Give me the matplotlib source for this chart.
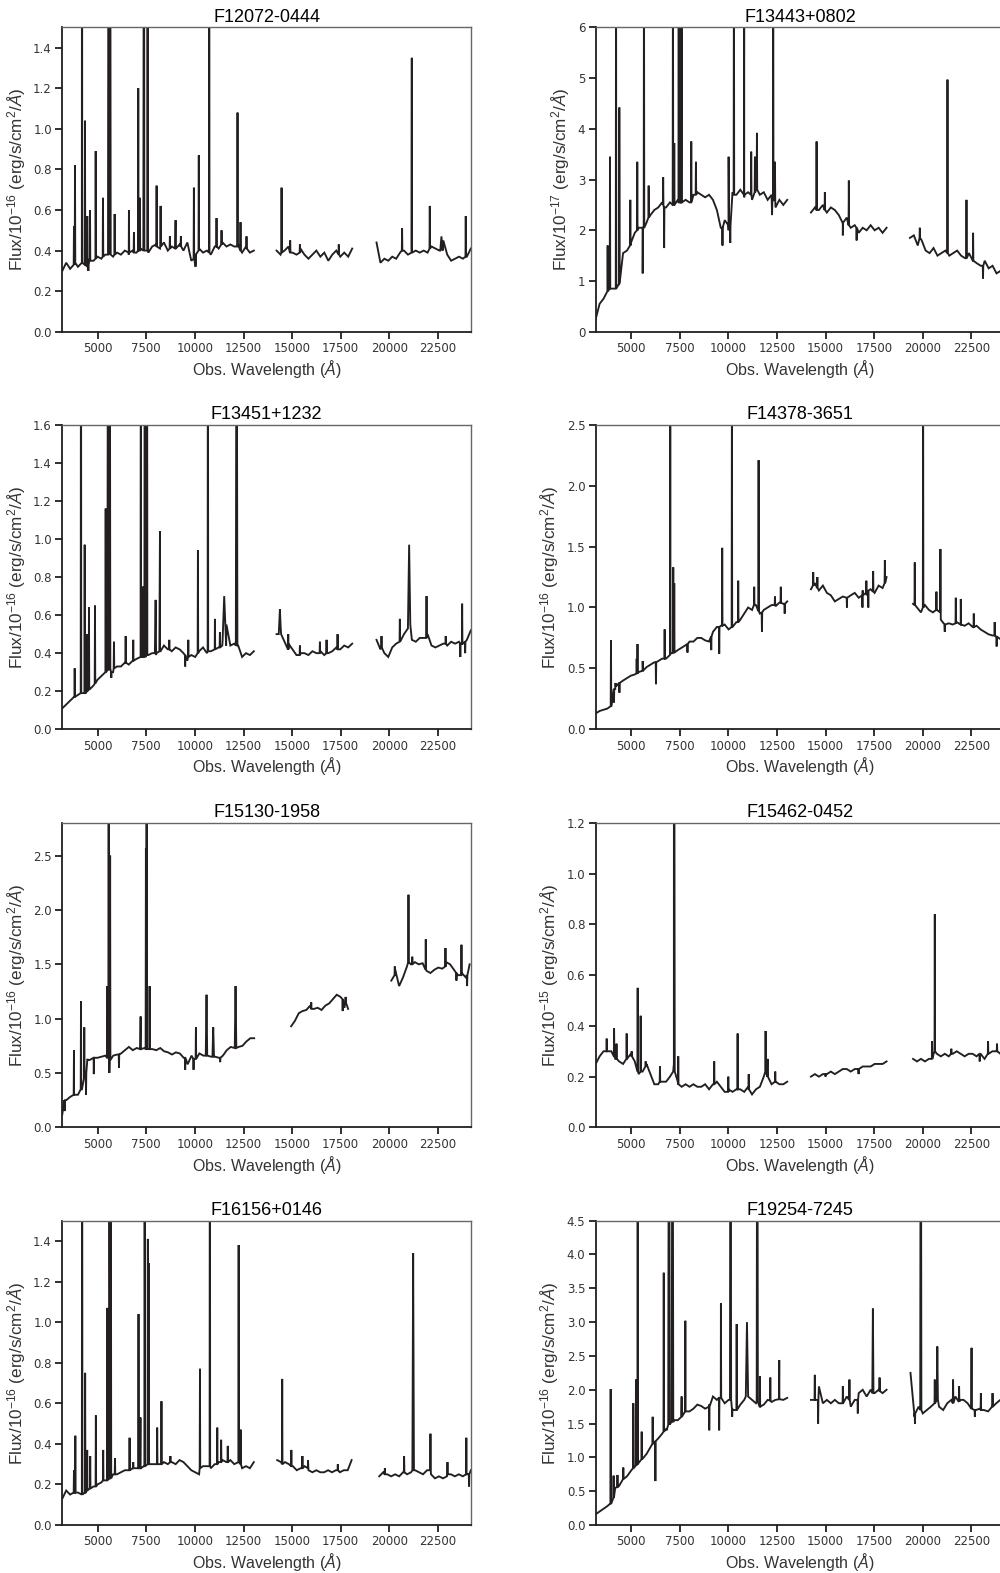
import numpy as np
import matplotlib
matplotlib.use('Agg')
import matplotlib.pyplot as plt

plt.rcParams['mathtext.fontset'] = 'custom'
plt.rcParams['mathtext.rm'] = 'Liberation Sans'
plt.rcParams['mathtext.it'] = 'Liberation Sans:italic'

# ---- data ----
# continuum: flux values on an even grid between the segment ends
# lines: (wavelength, base, peak[, half width])

f12072_ranges = [(3180, 13030), (14200, 18090), (19340, 24190)]
f12072_seg1 = [0.30, 0.34, 0.31, 0.35, 0.32, 0.34, 0.33, 0.36, 0.35, 0.37,
               0.36, 0.38, 0.39, 0.37, 0.39, 0.38, 0.40, 0.38, 0.40, 0.39,
               0.41, 0.40, 0.39, 0.42, 0.43, 0.41, 0.44, 0.40, 0.42, 0.41,
               0.43, 0.40, 0.44, 0.35, 0.33, 0.41, 0.39, 0.40, 0.38, 0.42,
               0.41, 0.44, 0.42, 0.43, 0.42, 0.43, 0.39, 0.42, 0.39, 0.40]
f12072_seg2 = [0.40, 0.38, 0.40, 0.42, 0.39, 0.38, 0.41, 0.38, 0.36, 0.38,
               0.40, 0.37, 0.39, 0.35, 0.38, 0.40, 0.37, 0.39, 0.37, 0.41]
f12072_seg3 = [0.44, 0.34, 0.36, 0.35, 0.37, 0.36, 0.39, 0.40, 0.38, 0.41,
               0.40, 0.39, 0.40, 0.39, 0.42, 0.41, 0.40, 0.45, 0.38, 0.35,
               0.36, 0.37, 0.36, 0.37, 0.41]
f12072_lines = [(3780, 0.33, 0.52), (3833, 0.34, 0.82), (4193, 0.34, 3.0), (4347, 0.33, 1.04),
                (4465, 0.32, 0.57), (4520, 0.33, 0.30), (4606, 0.35, 0.60), (4897, 0.36, 0.89),
                (5272, 0.37, 0.66), (5560, 0.38, 3.0, 30), (5640, 0.38, 3.0, 30), (5872, 0.38, 0.58),
                (6607, 0.39, 0.60), (6864, 0.39, 0.49), (7087, 0.40, 1.20), (7172, 0.40, 0.66),
                (7378, 0.40, 3.0, 30), (7567, 0.40, 3.0), (8030, 0.42, 0.72), (8235, 0.42, 0.62),
                (8713, 0.41, 0.47), (9006, 0.41, 0.55), (9278, 0.42, 0.47), (9948, 0.36, 0.71),
                (10030, 0.38, 0.32), (10200, 0.40, 0.87), (10736, 0.39, 3.0), (11112, 0.42, 0.56),
                (11370, 0.43, 0.50), (12192, 0.42, 1.08), (12346, 0.40, 0.54), (12654, 0.41, 0.47),
                (14457, 0.39, 0.71), (14900, 0.39, 0.45), (15400, 0.39, 0.43), (17400, 0.38, 0.43),
                (20656, 0.40, 0.51), (21155, 0.39, 1.35), (22080, 0.41, 0.62), (22680, 0.40, 0.47, 60),
                (23930, 0.37, 0.57)]

f13443_ranges = [(3180, 13030), (14250, 18140), (19340, 24200)]
f13443_seg1 = [0.25, 0.55, 0.65, 0.80, 0.85, 0.85, 0.92, 1.55, 1.60, 1.75,
               1.95, 2.05, 2.00, 2.15, 2.30, 2.40, 2.45, 2.55, 2.45, 2.55,
               2.50, 2.60, 2.55, 2.60, 2.55, 2.70, 2.75, 2.70, 2.65, 2.70,
               2.60, 2.40, 2.05, 2.20, 2.00, 2.75, 2.70, 2.80, 2.65, 2.75,
               2.60, 2.85, 2.70, 2.75, 2.60, 2.70, 2.45, 2.60, 2.50, 2.60]
f13443_seg2 = [2.35, 2.45, 2.40, 2.50, 2.35, 2.45, 2.40, 2.30, 2.15, 2.25,
               2.05, 2.10, 1.95, 2.05, 2.00, 2.10, 2.00, 2.05, 1.95, 2.05]
f13443_seg3 = [1.85, 1.90, 1.70, 1.80, 1.60, 1.55, 1.65, 1.50, 1.55, 1.60,
               1.50, 1.55, 1.60, 1.50, 1.45, 1.55, 1.40, 1.35, 1.30, 1.40,
               1.25, 1.30, 1.15, 1.20, 1.00]
f13443_lines = [(3795, 0.80, 1.70), (3915, 0.85, 3.45), (4226, 0.85, 8.0), (4395, 0.95, 4.42),
                (4960, 1.70, 2.60), (5318, 2.00, 3.35), (5596, 2.05, 1.15), (5663, 2.05, 8.0),
                (5904, 2.25, 2.88), (6650, 2.50, 3.05), (6700, 2.45, 1.65), (7153, 2.50, 8.0),
                (7220, 2.50, 3.72), (7450, 2.55, 8.0), (7530, 2.55, 8.0), (7600, 2.55, 8.0),
                (8095, 2.55, 3.75), (8335, 2.70, 3.35), (9700, 2.05, 1.70), (10016, 2.10, 3.45),
                (10100, 2.10, 1.75), (10289, 2.70, 8.0), (10818, 2.70, 8.0), (11178, 2.70, 3.55),
                (11370, 2.75, 3.45), (11472, 2.80, 3.92), (12250, 2.55, 2.30), (12309, 2.60, 8.0),
                (12400, 2.60, 3.35),
                (14540, 2.40, 3.75), (14966, 2.40, 2.75), (15890, 2.15, 1.90), (16199, 2.10, 2.98),
                (16600, 2.05, 1.80),
                (19850, 1.85, 2.05), (21273, 1.55, 4.97), (22250, 1.45, 2.60), (22590, 1.40, 1.95),
                (23100, 1.30, 1.05), (24100, 1.05, 1.55), (24180, 1.00, 0.70)]

f13451_ranges = [(3180, 13030), (14200, 18090), (19340, 24190)]
f13451_seg1 = [0.11, 0.13, 0.15, 0.17, 0.18, 0.19, 0.19, 0.21, 0.23, 0.26,
               0.28, 0.30, 0.32, 0.30, 0.33, 0.33, 0.35, 0.34, 0.36, 0.37,
               0.38, 0.38, 0.39, 0.40, 0.39, 0.41, 0.44, 0.42, 0.41, 0.43,
               0.42, 0.40, 0.36, 0.39, 0.38, 0.41, 0.43, 0.40, 0.41, 0.42,
               0.43, 0.46, 0.55, 0.44, 0.45, 0.44, 0.38, 0.40, 0.39, 0.41]
f13451_seg2 = [0.50, 0.55, 0.46, 0.45, 0.42, 0.39, 0.40, 0.40, 0.39, 0.41,
               0.40, 0.41, 0.39, 0.40, 0.41, 0.43, 0.42, 0.44, 0.43, 0.45]
f13451_seg3 = [0.47, 0.42, 0.40, 0.38, 0.43, 0.45, 0.47, 0.50, 0.53, 0.47,
               0.46, 0.48, 0.48, 0.50, 0.44, 0.43, 0.44, 0.45, 0.44, 0.46,
               0.45, 0.46, 0.45, 0.47, 0.52]
f13451_lines = [(3817, 0.17, 0.32), (4141, 0.19, 3.0), (4331, 0.19, 0.97), (4465, 0.20, 0.50),
                (4552, 0.21, 0.64), (4861, 0.24, 0.65), (5411, 0.30, 1.16), (5530, 0.31, 3.0, 30),
                (5620, 0.32, 3.0, 30), (5700, 0.30, 0.27), (5837, 0.32, 0.46), (6439, 0.35, 0.49),
                (6829, 0.36, 0.47), (7220, 0.38, 3.0), (7340, 0.38, 0.75), (7420, 0.38, 3.0, 30),
                (7540, 0.39, 3.0), (7980, 0.40, 0.68, 40), (8202, 0.41, 1.04, 30), (8683, 0.42, 0.47),
                (9500, 0.39, 0.33), (9660, 0.38, 0.47), (10155, 0.40, 0.94), (10669, 0.41, 3.0),
                (11029, 0.42, 0.58), (11286, 0.43, 0.51), (11507, 0.44, 0.70, 100), (12145, 0.44, 3.0, 40),
                (14372, 0.50, 0.63, 60), (14800, 0.42, 0.50), (15400, 0.39, 0.44), (16429, 0.40, 0.46),
                (16771, 0.40, 0.47), (17337, 0.42, 0.50),
                (19597, 0.43, 0.49), (20540, 0.46, 0.58), (21018, 0.55, 0.97, 60), (21913, 0.48, 0.70),
                (22900, 0.45, 0.49), (23650, 0.45, 0.38), (23745, 0.45, 0.66), (23900, 0.46, 0.40)]

f14378_ranges = [(3180, 13030), (14250, 18140), (19500, 24200)]
f14378_seg1 = [0.13, 0.15, 0.16, 0.17, 0.19, 0.33, 0.38, 0.40, 0.42, 0.44,
               0.45, 0.47, 0.48, 0.51, 0.53, 0.55, 0.56, 0.58, 0.58, 0.61,
               0.63, 0.65, 0.67, 0.69, 0.72, 0.72, 0.75, 0.75, 0.73, 0.72,
               0.80, 0.84, 0.85, 0.86, 0.82, 0.84, 0.88, 0.90, 0.95, 1.00,
               0.98, 1.02, 0.95, 0.98, 1.00, 1.02, 1.01, 1.04, 1.03, 1.05]
f14378_seg2 = [1.15, 1.20, 1.14, 1.18, 1.12, 1.10, 1.05, 1.07, 1.09, 1.06,
               1.10, 1.12, 1.08, 1.14, 1.10, 1.15, 1.12, 1.18, 1.16, 1.25]
f14378_seg3 = [1.03, 1.00, 0.96, 1.02, 0.98, 0.96, 0.98, 0.90, 0.85, 0.87,
               0.86, 0.88, 0.86, 0.85, 0.87, 0.84, 0.85, 0.82, 0.80, 0.78,
               0.77, 0.76, 0.74, 0.72]
f14378_lines = [(3966, 0.19, 0.73), (4120, 0.33, 0.22), (4200, 0.35, 0.38), (4400, 0.38, 0.30),
                (5288, 0.46, 0.58), (5330, 0.46, 0.70), (5596, 0.48, 0.56), (6280, 0.55, 0.37),
                (6726, 0.58, 0.82), (7014, 0.62, 2.9), (7169, 0.63, 1.33), (7220, 0.63, 1.20),
                (7900, 0.70, 0.63), (9122, 0.76, 0.65), (9533, 0.84, 0.62), (9687, 0.85, 1.49),
                (10186, 0.84, 2.9), (10510, 0.88, 1.22), (11332, 1.02, 1.17), (11558, 0.97, 2.21),
                (11730, 0.96, 0.80), (12400, 1.02, 1.09), (12700, 1.04, 1.17), (12900, 1.03, 0.95),
                (14367, 1.18, 1.29), (14580, 1.16, 1.25), (16100, 1.08, 1.00), (16900, 1.10, 1.00),
                (17100, 1.12, 1.22), (17200, 1.14, 1.00), (17450, 1.13, 1.30), (18052, 1.20, 1.39),
                (19590, 1.02, 1.37), (20019, 1.00, 2.9), (20705, 0.98, 1.13), (20910, 0.96, 1.48),
                (21134, 0.86, 0.80), (21700, 0.87, 1.08), (21957, 0.86, 1.07), (22625, 0.84, 0.95),
                (23700, 0.77, 0.88), (23800, 0.76, 0.68)]

f15130_ranges = [(3180, 13050), (14950, 17880), (20100, 24130)]
f15130_seg1 = [0.12, 0.25, 0.28, 0.30, 0.30, 0.35, 0.50, 0.62, 0.64, 0.64,
               0.65, 0.66, 0.62, 0.66, 0.67, 0.68, 0.71, 0.74, 0.71, 0.73,
               0.72, 0.73, 0.72, 0.72, 0.71, 0.73, 0.70, 0.69, 0.67, 0.69,
               0.68, 0.64, 0.58, 0.66, 0.63, 0.68, 0.66, 0.66, 0.65, 0.65,
               0.64, 0.66, 0.71, 0.74, 0.73, 0.74, 0.75, 0.79, 0.82, 0.82]
f15130_seg2 = [0.93, 0.98, 1.05, 1.07, 1.08, 1.12, 1.09, 1.10, 1.08, 1.12,
               1.14, 1.18, 1.22, 1.20, 1.10, 1.09]
f15130_seg3 = [1.35, 1.45, 1.30, 1.38, 1.48, 1.50, 1.52, 1.50, 1.51, 1.44,
               1.42, 1.45, 1.47, 1.46, 1.52, 1.50, 1.45, 1.40, 1.42, 1.38, 1.50]
f15130_lines = [(3300, 0.25, 0.15), (3780, 0.30, 0.71), (4141, 0.35, 1.16), (4310, 0.45, 0.92),
                (4400, 0.50, 0.30), (4480, 0.62, 0.63), (4800, 0.64, 0.49), (5496, 0.64, 1.30),
                (5565, 0.64, 5.0), (5600, 0.62, 0.50), (5640, 0.62, 2.5), (6095, 0.67, 0.55),
                (7208, 0.72, 1.02), (7480, 0.72, 2.57), (7516, 0.72, 5.0), (7670, 0.72, 1.30),
                (9500, 0.64, 0.53), (9930, 0.63, 0.53), (10052, 0.63, 0.92), (10598, 0.66, 1.22, 40),
                (10942, 0.65, 0.92, 40), (11300, 0.64, 0.60), (12090, 0.73, 1.30, 40),
                (15983, 1.09, 1.15), (17600, 1.18, 1.07), (17750, 1.15, 1.20),
                (20281, 1.40, 1.48), (20985, 1.52, 2.14), (21180, 1.50, 1.57), (21874, 1.45, 1.73),
                (22887, 1.48, 1.65), (23452, 1.42, 1.35), (23710, 1.40, 1.68), (24000, 1.40, 1.30)]

f15462_ranges = [(3180, 13030), (14250, 18140), (19500, 24200)]
f15462_seg1 = [0.25, 0.28, 0.30, 0.30, 0.30, 0.27, 0.26, 0.25, 0.27, 0.29,
               0.26, 0.21, 0.22, 0.25, 0.21, 0.17, 0.17, 0.18, 0.18, 0.20,
               0.25, 0.18, 0.16, 0.17, 0.16, 0.17, 0.16, 0.16, 0.17, 0.15,
               0.17, 0.18, 0.16, 0.14, 0.15, 0.14, 0.15, 0.15, 0.14, 0.16,
               0.13, 0.15, 0.16, 0.20, 0.22, 0.17, 0.18, 0.17, 0.17, 0.18]
f15462_seg2 = [0.20, 0.21, 0.20, 0.21, 0.21, 0.22, 0.21, 0.22, 0.23, 0.23,
               0.22, 0.23, 0.23, 0.24, 0.24, 0.24, 0.25, 0.25, 0.25, 0.26]
f15462_seg3 = [0.27, 0.26, 0.27, 0.26, 0.27, 0.28, 0.29, 0.28, 0.29, 0.28,
               0.29, 0.30, 0.29, 0.28, 0.29, 0.29, 0.28, 0.29, 0.27, 0.29,
               0.30, 0.30, 0.29, 0.30]
f15462_lines = [(3745, 0.30, 0.35), (4126, 0.28, 0.39), (4250, 0.27, 0.33), (4773, 0.27, 0.37),
                (5030, 0.28, 0.30), (5339, 0.22, 0.55), (5493, 0.22, 0.44), (5750, 0.24, 0.26),
                (6485, 0.18, 0.24), (7205, 0.22, 3.0, 40), (7426, 0.17, 0.28), (9275, 0.17, 0.26),
                (10000, 0.14, 0.20), (10479, 0.15, 0.37), (11050, 0.15, 0.21), (11918, 0.22, 0.38),
                (12020, 0.20, 0.27), (12415, 0.18, 0.22),
                (15000, 0.21, 0.20), (16700, 0.23, 0.21),
                (20480, 0.27, 0.34), (20620, 0.30, 0.84), (21470, 0.29, 0.31), (22930, 0.29, 0.26),
                (23360, 0.29, 0.34), (23820, 0.30, 0.33)]

f16156_ranges = [(3180, 13030), (14230, 18060), (19480, 24190)]
f16156_seg1 = [0.13, 0.17, 0.15, 0.16, 0.16, 0.15, 0.16, 0.18, 0.19, 0.20,
               0.21, 0.22, 0.23, 0.25, 0.25, 0.26, 0.27, 0.27, 0.28, 0.28,
               0.28, 0.29, 0.30, 0.30, 0.30, 0.30, 0.31, 0.30, 0.31, 0.30,
               0.32, 0.31, 0.29, 0.27, 0.26, 0.25, 0.29, 0.29, 0.28, 0.30,
               0.31, 0.32, 0.31, 0.32, 0.30, 0.31, 0.28, 0.29, 0.28, 0.31]
f16156_seg2 = [0.32, 0.31, 0.31, 0.30, 0.29, 0.27, 0.28, 0.29, 0.27, 0.26,
               0.27, 0.26, 0.26, 0.27, 0.26, 0.27, 0.26, 0.27, 0.27, 0.32]
f16156_seg3 = [0.24, 0.26, 0.25, 0.24, 0.25, 0.24, 0.26, 0.25, 0.26, 0.27,
               0.26, 0.25, 0.27, 0.25, 0.23, 0.24, 0.23, 0.24, 0.25, 0.24,
               0.25, 0.24, 0.25, 0.27]
f16156_lines = [(3780, 0.16, 0.27), (3850, 0.16, 0.44), (4200, 0.15, 3.0), (4355, 0.16, 0.75),
                (4460, 0.17, 0.37), (4615, 0.18, 0.34), (4906, 0.19, 0.54), (5283, 0.22, 0.37),
                (5490, 0.22, 1.07), (5600, 0.23, 3.0, 30), (5670, 0.23, 3.0, 25), (5890, 0.25, 0.33),
                (6640, 0.27, 0.43), (6829, 0.28, 0.31), (7100, 0.28, 1.04), (7200, 0.28, 0.53),
                (7410, 0.29, 3.0, 30), (7580, 0.30, 1.41), (7630, 0.30, 1.29), (8060, 0.30, 0.48),
                (8280, 0.30, 0.61), (8740, 0.31, 0.34), (10260, 0.28, 0.77), (10770, 0.29, 3.0),
                (11150, 0.30, 0.48), (11350, 0.31, 0.42), (11690, 0.31, 0.39), (12250, 0.31, 1.38),
                (12350, 0.30, 0.47),
                (14490, 0.30, 0.72), (14960, 0.29, 0.37), (15530, 0.28, 0.34), (15820, 0.28, 0.32),
                (17350, 0.27, 0.30),
                (19770, 0.25, 0.28), (20760, 0.26, 0.34), (21225, 0.27, 1.34, 40), (22115, 0.27, 0.45),
                (22990, 0.25, 0.31), (23960, 0.25, 0.43), (24100, 0.25, 0.19)]

f19254_ranges = [(3180, 13030), (14250, 18140), (19370, 24200)]
f19254_seg1 = [0.16, 0.20, 0.24, 0.28, 0.32, 0.55, 0.58, 0.68, 0.72, 0.80,
               0.86, 0.92, 0.98, 1.05, 1.15, 1.22, 1.28, 1.35, 1.42, 1.50,
               1.55, 1.55, 1.62, 1.70, 1.68, 1.72, 1.78, 1.76, 1.72, 1.78,
               1.90, 1.85, 1.90, 1.80, 1.85, 1.70, 1.70, 1.78, 1.85, 1.95,
               1.85, 1.80, 1.75, 1.78, 1.85, 1.82, 1.85, 1.88, 1.85, 1.88]
f19254_seg2 = [1.85, 1.95, 2.05, 1.80, 1.85, 1.80, 1.85, 1.80, 1.95, 1.90,
               1.75, 1.85, 1.95, 2.00, 1.90, 2.00, 1.95, 2.00, 1.95, 2.00]
f19254_seg3 = [2.25, 1.60, 1.75, 1.65, 1.70, 1.75, 1.85, 1.75, 1.70, 1.80,
               1.85, 1.90, 1.85, 1.85, 1.80, 1.75, 1.70, 1.72, 1.70, 1.68,
               1.75, 1.80, 1.85, 1.82]
f19254_lines = [(3950, 0.32, 2.01), (4100, 0.40, 0.73), (4300, 0.56, 0.74), (4600, 0.68, 0.85),
                (5113, 0.84, 1.80), (5250, 0.88, 2.15), (5340, 0.90, 9.0), (5545, 0.97, 1.38),
                (6110, 1.20, 1.60), (6250, 1.24, 0.65), (6680, 1.38, 3.73), (6830, 1.42, 1.40),
                (6950, 1.48, 9.0, 40), (7130, 1.52, 9.0, 40), (7600, 1.60, 1.90), (7790, 1.68, 3.02),
                (9020, 1.75, 1.40), (9530, 1.88, 1.40), (9620, 1.88, 3.28), (10115, 1.85, 9.0, 30),
                (10200, 1.72, 1.60), (10430, 1.70, 2.97), (10960, 1.90, 3.0, 60), (11490, 1.82, 9.0, 30),
                (11625, 1.75, 2.20), (12160, 1.84, 2.18), (12620, 1.86, 2.44),
                (14450, 1.85, 2.22), (14620, 1.85, 1.50), (15890, 1.80, 2.05), (16230, 1.85, 2.15),
                (16660, 1.85, 1.65), (17436, 1.95, 3.20, 30), (17780, 1.98, 2.18),
                (19600, 1.65, 1.50), (19900, 1.70, 9.0, 30), (20620, 1.80, 2.15), (20750, 1.85, 2.64, 30),
                (21560, 1.80, 2.15), (21870, 1.82, 2.05), (22510, 1.72, 2.62), (22680, 1.70, 1.60),
                (22990, 1.70, 1.95), (23590, 1.75, 1.95)]

names = ['F12072-0444', 'F13443+0802', 'F13451+1232', 'F14378-3651',
         'F15130-1958', 'F15462-0452', 'F16156+0146', 'F19254-7245']
exponents = [-16, -17, -16, -16, -16, -15, -16, -16]
ymaxes = [1.5, 6, 1.6, 2.5, 2.8, 1.2, 1.5, 4.5]
ysteps = [0.2, 1, 0.2, 0.5, 0.5, 0.2, 0.2, 0.5]
xticks = [5000, 7500, 10000, 12500, 15000, 17500, 20000, 22500]

spectra = [
    (f12072_ranges, [f12072_seg1, f12072_seg2, f12072_seg3], f12072_lines),
    (f13443_ranges, [f13443_seg1, f13443_seg2, f13443_seg3], f13443_lines),
    (f13451_ranges, [f13451_seg1, f13451_seg2, f13451_seg3], f13451_lines),
    (f14378_ranges, [f14378_seg1, f14378_seg2, f14378_seg3], f14378_lines),
    (f15130_ranges, [f15130_seg1, f15130_seg2, f15130_seg3], f15130_lines),
    (f15462_ranges, [f15462_seg1, f15462_seg2, f15462_seg3], f15462_lines),
    (f16156_ranges, [f16156_seg1, f16156_seg2, f16156_seg3], f16156_lines),
    (f19254_ranges, [f19254_seg1, f19254_seg2, f19254_seg3], f19254_lines),
]


def build(ranges, segs, lines):
    out = []
    for (lo, hi), flux in zip(ranges, segs):
        wl = list(np.linspace(lo, hi, len(flux)))
        fl = list(flux)
        for ln in lines:
            w, base, peak = ln[:3]
            hw = ln[3] if len(ln) > 3 else 14
            if lo <= w <= hi:
                wl += [w - hw, w, w + hw]
                fl += [base, peak, base]
        order = np.argsort(wl, kind='stable')
        out.append((np.array(wl)[order], np.array(fl)[order]))
    return out


fig = plt.figure(figsize=(10, 15.73), dpi=100)

lefts = [0.0623, 0.5957]
bottoms = [0.7891, 0.5364, 0.2833, 0.0305]
w, h = 0.4087, 0.1935

for i in range(8):
    ax = fig.add_axes([lefts[i % 2], bottoms[i // 2], w, h])
    for wl, fl in build(*spectra[i]):
        ax.plot(wl, fl, color='#231f20', lw=1.35, solid_joinstyle='miter')
    ax.set_xlim(3180, 24200)
    ax.set_ylim(0, ymaxes[i])
    ax.set_xticks(xticks)
    yt = np.arange(0, ymaxes[i] + 1e-6, ysteps[i])
    ax.set_yticks(yt)
    if ysteps[i] >= 1:
        ax.set_yticklabels(['%d' % v for v in yt])
    else:
        ax.set_yticklabels(['%.1f' % v for v in yt])
    for s in ['left', 'bottom']:
        ax.spines[s].set_color('#231f20')
        ax.spines[s].set_linewidth(1.3)
    for s in ['top', 'right']:
        ax.spines[s].set_color('#666666')
        ax.spines[s].set_linewidth(1.0)
    ax.tick_params(direction='out', length=5, width=1.3, labelsize=8.5,
                   color='#231f20', labelcolor='#333333', pad=2.5)
    ax.set_title(names[i], fontsize=13, family='Liberation Sans', pad=4)
    ax.set_xlabel('Obs. Wavelength ($Å$)', fontsize=11.5, family='Liberation Sans',
                  color='#333333', labelpad=2)
    ax.set_ylabel('Flux/10$^{%d}$ (erg/s/cm$^2$/$Å$)' % exponents[i], fontsize=12.3,
                  family='Liberation Sans', color='#333333', labelpad=4)

fig.savefig('out.png', dpi=100)
